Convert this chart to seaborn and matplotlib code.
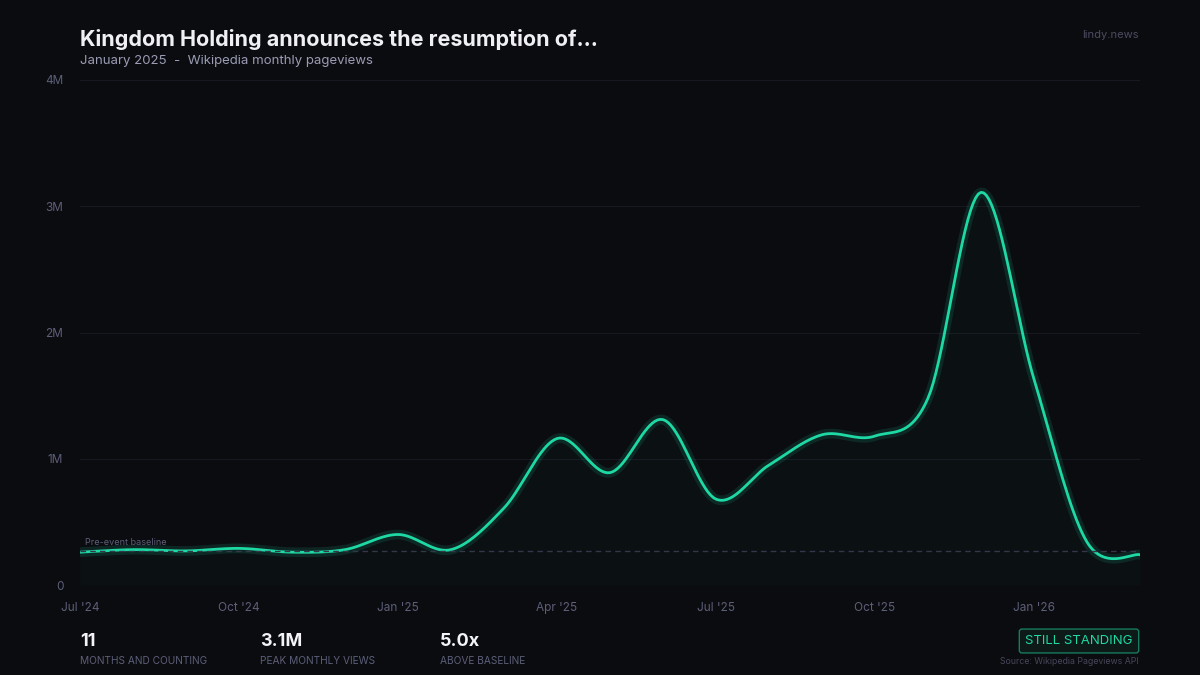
import numpy as np
import pandas as pd
import matplotlib
matplotlib.use("Agg")
import matplotlib.pyplot as plt
import seaborn as sns

months = ["Jul '24", "Aug '24", "Sep '24", "Oct '24", "Nov '24", "Dec '24", "Jan '25",
          "Feb '25", "Mar '25", "Apr '25", "May '25", "Jun '25", "Jul '25", "Aug '25",
          "Sep '25", "Oct '25", "Nov '25", "Dec '25", "Jan '26", "Feb '26", "Mar '26"]
views = [0.26, 0.28, 0.27, 0.29, 0.26, 0.28, 0.40, 0.28, 0.61, 1.16, 0.89, 1.31,
         0.68, 0.95, 1.19, 1.18, 1.48, 3.11, 1.63, 0.34, 0.24]  # millions
baseline = 0.27
tick_labels = ["Jul '24", "Oct '24", "Jan '25", "Apr '25", "Jul '25", "Oct '25", "Jan '26"]

BG = "#0b0c10"
GREEN = "#1ed9a4"
MUTED = "#5c5f78"

df = pd.DataFrame({"month": np.arange(len(months)), "views": views})

# catmull-rom smoothing for the curve
def smooth(x, y, n=20):
    x = np.asarray(x, float); y = np.asarray(y, float)
    xp = np.concatenate([[x[0]], x, [x[-1]]]); yp = np.concatenate([[y[0]], y, [y[-1]]])
    xs, ys = [], []
    for i in range(1, len(xp) - 2):
        t = np.linspace(0, 1, n, endpoint=False)
        for arr, out in ((xp, xs), (yp, ys)):
            p0, p1, p2, p3 = arr[i - 1:i + 3]
            out.extend(0.5 * (2 * p1 + (-p0 + p2) * t + (2 * p0 - 5 * p1 + 4 * p2 - p3) * t**2
                              + (-p0 + 3 * p1 - 3 * p2 + p3) * t**3))
    xs.append(x[-1]); ys.append(y[-1])
    return pd.DataFrame({"month": xs, "views": ys})

sm = smooth(df["month"], df["views"])

sns.set_style("dark")
plt.rcParams["font.family"] = ["Inter", "DejaVu Sans"]
fig = plt.figure(figsize=(12, 6.75), dpi=100, facecolor=BG)
ax = fig.add_axes([80 / 1200, 1 - 585 / 675, 1060 / 1200, 505 / 675], facecolor=BG)

ax.fill_between(sm["month"], sm["views"], color=GREEN, alpha=0.025, lw=0)
sns.lineplot(data=sm, x="month", y="views", ax=ax, color=GREEN, lw=7, alpha=0.13)
sns.lineplot(data=sm, x="month", y="views", ax=ax, color=GREEN, lw=2)
ax.axhline(baseline, color="#34364a", lw=1, ls=(0, (4, 3)))
ax.text(0.1, baseline + 0.03, "Pre-event baseline", color=MUTED, fontsize=6.5, va="bottom")

ax.set_xlim(0, len(months) - 1)
ax.set_ylim(0, 4)
ax.set_yticks([0, 1, 2, 3, 4])
ax.set_yticklabels(["0", "1M", "2M", "3M", "4M"])
ax.set_xticks([months.index(t) for t in tick_labels])
ax.set_xticklabels(tick_labels)
ax.tick_params(colors=MUTED, labelsize=8.5, length=0, pad=12)
ax.grid(axis="y", color="#171922", lw=0.8)
ax.grid(axis="x", visible=False)
ax.set_xlabel(""); ax.set_ylabel("")
for s in ax.spines.values():
    s.set_visible(False)

fig.text(80 / 1200, 1 - 39 / 675, "Kingdom Holding announces the resumption of...", color="#f0f0f4",
         fontsize=15.5, fontweight="bold", va="center")
fig.text(80 / 1200, 1 - 61 / 675, "January 2025  -  Wikipedia monthly pageviews", color="#9a9cb4",
         fontsize=9.5, va="center")
fig.text(1139 / 1200, 1 - 35 / 675, "lindy.news", color="#4a4c60", fontsize=8, ha="right", va="center")

stats = [("11", "MONTHS AND COUNTING"), ("3.1M", "PEAK MONTHLY VIEWS"), ("5.0x", "ABOVE BASELINE")]
for i, (big, small) in enumerate(stats):
    x = (80 + 180 * i) / 1200
    fig.text(x, 1 - 641 / 675, big, color="#f4f4f8", fontsize=13, fontweight="bold", va="center")
    fig.text(x, 1 - 661 / 675, small, color=MUTED, fontsize=7.3, va="center")

fig.text(1079 / 1200, 1 - 641 / 675, "STILL STANDING", color=GREEN, fontsize=9.5, ha="center", va="center",
         bbox=dict(boxstyle="round,pad=0.45,rounding_size=0.2", fc="#0d1a17", ec="#187a5e", lw=1))
fig.text(1139 / 1200, 1 - 661 / 675, "Source: Wikipedia Pageviews API", color="#45475a", fontsize=6.3,
         ha="right", va="center")

fig.savefig("out.png", dpi=100, facecolor=BG)
